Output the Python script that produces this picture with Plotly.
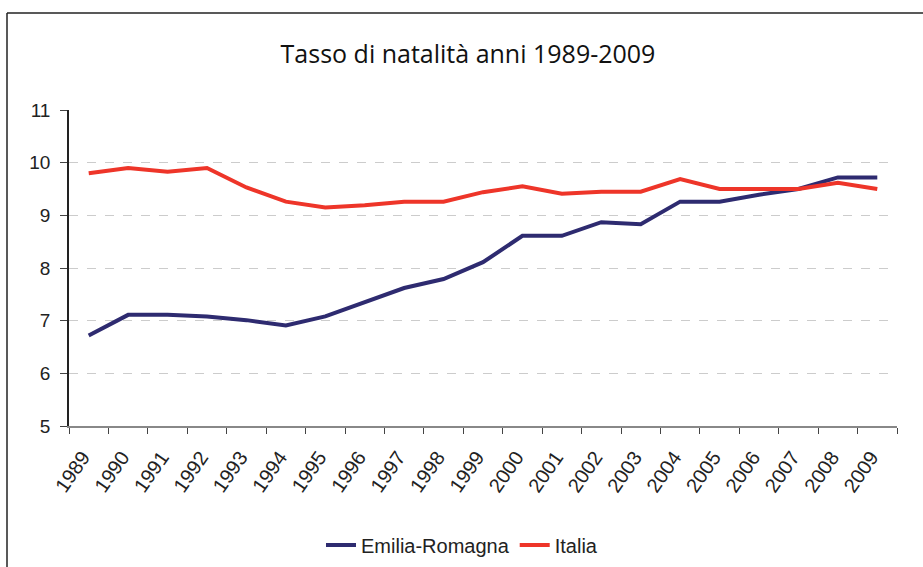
import plotly.graph_objects as go

years = [str(y) for y in range(1989, 2010)]
emilia_romagna = [6.72, 7.11, 7.11, 7.08, 7.01, 6.91, 7.08, 7.35, 7.62, 7.79, 8.11,
                  8.61, 8.61, 8.87, 8.83, 9.26, 9.26, 9.39, 9.50, 9.72, 9.72]
italia = [9.80, 9.90, 9.83, 9.90, 9.53, 9.26, 9.15, 9.19, 9.26, 9.26, 9.44,
          9.55, 9.41, 9.45, 9.45, 9.69, 9.50, 9.50, 9.50, 9.62, 9.50]

fig = go.Figure()
fig.add_trace(go.Scatter(x=years, y=emilia_romagna, mode="lines", name="Emilia-Romagna",
                         line=dict(color="#2E2B70", width=4)))
fig.add_trace(go.Scatter(x=years, y=italia, mode="lines", name="Italia",
                         line=dict(color="#EE3529", width=4)))

L, R, T, B = 69, 26, 110, 141
W, H = 923, 567
pw, ph = W - L - R, H - T - B

def px_x(p):
    return (p - L) / pw

def px_y(p):
    return (H - B - p) / ph

fig.update_layout(
    width=W, height=H,
    margin=dict(l=L, r=R, t=T, b=B, pad=0, autoexpand=False),
    paper_bgcolor="white", plot_bgcolor="white",
    font=dict(family="Liberation Sans, Arial", size=18, color="#222222"),
    title=dict(text="Tasso di natalità anni 1989-2009", x=px_x(468), xanchor="center",
               y=1 - 54 / H, yanchor="middle", xref="paper",
               font=dict(family="Open Sans", size=25, color="#111111")),
    showlegend=True,
    legend=dict(orientation="h", x=px_x(462), xanchor="center", y=px_y(545), yanchor="middle",
                font=dict(size=20, color="#222222"), tracegroupgap=0),
    xaxis=dict(type="category", tickson="boundaries", ticks="outside", ticklen=6,
               tickcolor="#444444", showline=True, linecolor="#888888", linewidth=1.5,
               showgrid=False, tickangle=-55, tickfont=dict(size=20),
               ticklabelstandoff=10, ticklabelshift=-6,
               range=[-0.5, 20.5]),
    yaxis=dict(range=[5, 11], dtick=1, ticks="outside", ticklen=7, tickcolor="#444444",
               showline=True, linecolor="#222222", linewidth=1.5,
               showgrid=True, gridcolor="#CCCCCC", griddash="dash", gridwidth=1,
               zeroline=False, tickfont=dict(size=19), ticklabelstandoff=6),
    shapes=[
        dict(type="line", xref="paper", yref="paper", x0=px_x(7), x1=px_x(930),
             y0=px_y(13), y1=px_y(13), line=dict(color="#222222", width=1.5)),
        dict(type="line", xref="paper", yref="paper", x0=px_x(7), x1=px_x(7),
             y0=px_y(13), y1=px_y(580), line=dict(color="#222222", width=1.5)),
    ],
)

fig.write_html("out.html", post_script="document.body.style.margin='0';",
               config={"displayModeBar": False})
